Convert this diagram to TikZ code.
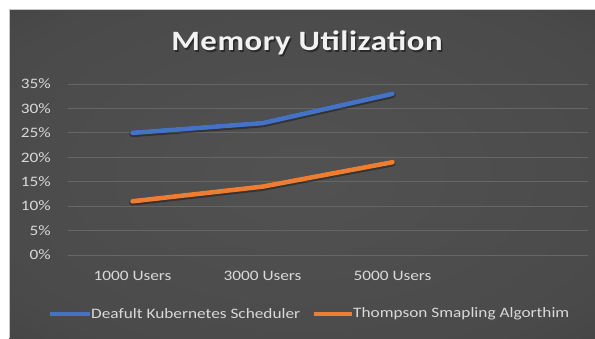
\documentclass[tikz,border=0pt]{standalone}
\usepackage{fontspec}
\setmainfont{Carlito}
\newfontfamily\lblfont[FakeStretch=1.2]{Carlito}
\newfontfamily\ttlfont[FakeStretch=1.17, LetterSpace=2]{Carlito}
\usetikzlibrary{calc}

\definecolor{seriesblue}{RGB}{68,114,196}
\definecolor{seriesorange}{RGB}{237,125,49}
\definecolor{gridgray}{RGB}{102,102,102}
\definecolor{labelgray}{RGB}{217,217,217}
\definecolor{framegray}{RGB}{200,200,200}

% dark chart background, lighter towards the middle
\pgfdeclareradialshading{chartglow}{\pgfpoint{0bp}{0bp}}{%
  rgb(0bp)=(0.32,0.32,0.32);
  rgb(30bp)=(0.29,0.29,0.29);
  rgb(70bp)=(0.17,0.17,0.17);
  rgb(100bp)=(0.17,0.17,0.17)}

\tikzset{
  gridline/.style={draw=gridgray, line width=0.9pt},
  ticklabel/.style={text=labelgray, inner sep=0pt, font=\lblfont\fontsize{14.4}{16}\selectfont},
  legendlabel/.style={ticklabel, anchor=west},
  seriesline/.style={line width=4.6pt, line cap=round, line join=round},
  seriesshadow/.style={line width=6.6pt, line cap=round, line join=round, draw=black, opacity=0.35},
  titletext/.style={inner sep=0pt, font=\ttlfont\bfseries\fontsize{28}{32}\selectfont},
}

\begin{document}
\begin{tikzpicture}[x=1pt, y=-1pt]
  \useasboundingbox (0,0) rectangle (595,338);
  \fill[white] (0,0) rectangle (595,338);
  \shade[shading=chartglow] (9,9.5) rectangle (595,338);
  \draw[framegray, line width=0.6pt] (9,338) -- (9,9.5) -- (595,9.5);

  % title with a soft drop shadow
  \node[titletext, text=black, opacity=0.45] (titleshadow) at (308.5,44.5) {Memory Utilization};
  \node[titletext, text=white!95!black] (title) at (307,43) {Memory Utilization};

  % horizontal gridlines and value labels
  \foreach \p/\lab in {0/0\%,5/5\%,10/10\%,15/15\%,20/20\%,25/25\%,30/30\%,35/35\%}{
    \coordinate (gl\p) at (67.5,{255-4.886*\p});
    \coordinate (gr\p) at (587.5,{255-4.886*\p});
    \draw[gridline] (gl\p) -- (gr\p);
    \node[ticklabel, anchor=east] (ylab\p) at (51,{255-4.886*\p}) {\lab};
  }

  % category labels
  \node[ticklabel] (xa) at (132.5,276) {1000 Users};
  \node[ticklabel] (xb) at (262.5,276) {3000 Users};
  \node[ticklabel] (xc) at (392.5,276) {5000 Users};

  % data points
  \coordinate (b1) at (132.5,{255-4.886*25});
  \coordinate (b2) at (262.5,{255-4.886*27});
  \coordinate (b3) at (392.5,{255-4.886*33});
  \coordinate (o1) at (132.5,{255-4.886*11});
  \coordinate (o2) at (262.5,{255-4.886*14});
  \coordinate (o3) at (392.5,{255-4.886*19});

  % series lines
  \draw[seriesshadow] ($(b1)+(0,1)$) -- ($(b2)+(0,1)$) -- ($(b3)+(0,1)$);
  \draw[seriesshadow] ($(o1)+(0,1)$) -- ($(o2)+(0,1)$) -- ($(o3)+(0,1)$);
  \draw[seriesline, seriesblue] (b1) -- (b2) -- (b3);
  \draw[seriesline, seriesorange] (o1) -- (o2) -- (o3);

  % legend
  \coordinate (lbs) at (50,314);
  \coordinate (lbe) at (90,314);
  \coordinate (los) at (314,314);
  \coordinate (loe) at (352,314);
  \draw[seriesline, seriesblue, line cap=butt] (lbs) -- (lbe);
  \node[legendlabel] (legb) at (91,314) {Deafult Kubernetes Scheduler};
  \draw[seriesline, seriesorange, line cap=butt] (los) -- (loe);
  \node[legendlabel] (lego) at (353,314) {Thompson Smapling Algorthim};
\end{tikzpicture}
\end{document}
